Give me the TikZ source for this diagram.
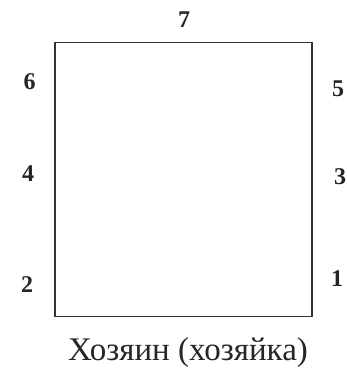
\documentclass[tikz,border=0pt]{standalone}
\usepackage{fontspec}
\setmainfont{Liberation Serif}
\begin{document}
\begin{tikzpicture}[x=1pt,y=-1pt,
  num/.style={font=\fontsize{24}{28}\selectfont\bfseries, text=black!85, inner sep=0pt},
  captiontext/.style={font=\fontsize{33}{38}\selectfont, text=black!85, inner sep=0pt}]
\useasboundingbox (0,0) rectangle (347,370);
\node[draw=black!80, line width=1.6pt, minimum width=257pt, minimum height=274pt, inner sep=0pt] (box) at (183.5,179.5) {};
\node[num] (n7) at (184,19.5) {7};
\node[num] (n6) at (29.5,81.5) {6};
\node[num] (n5) at (338,88.5) {5};
\node[num] (n4) at (28,174) {4};
\node[num] (n3) at (340,176.5) {3};
\node[num] (n2) at (27,284.5) {2};
\node[num] (n1) at (337,279) {1};
\node[captiontext] (t) at (188,353) {Хозяин (хозяйка)};
\end{tikzpicture}
\end{document}
